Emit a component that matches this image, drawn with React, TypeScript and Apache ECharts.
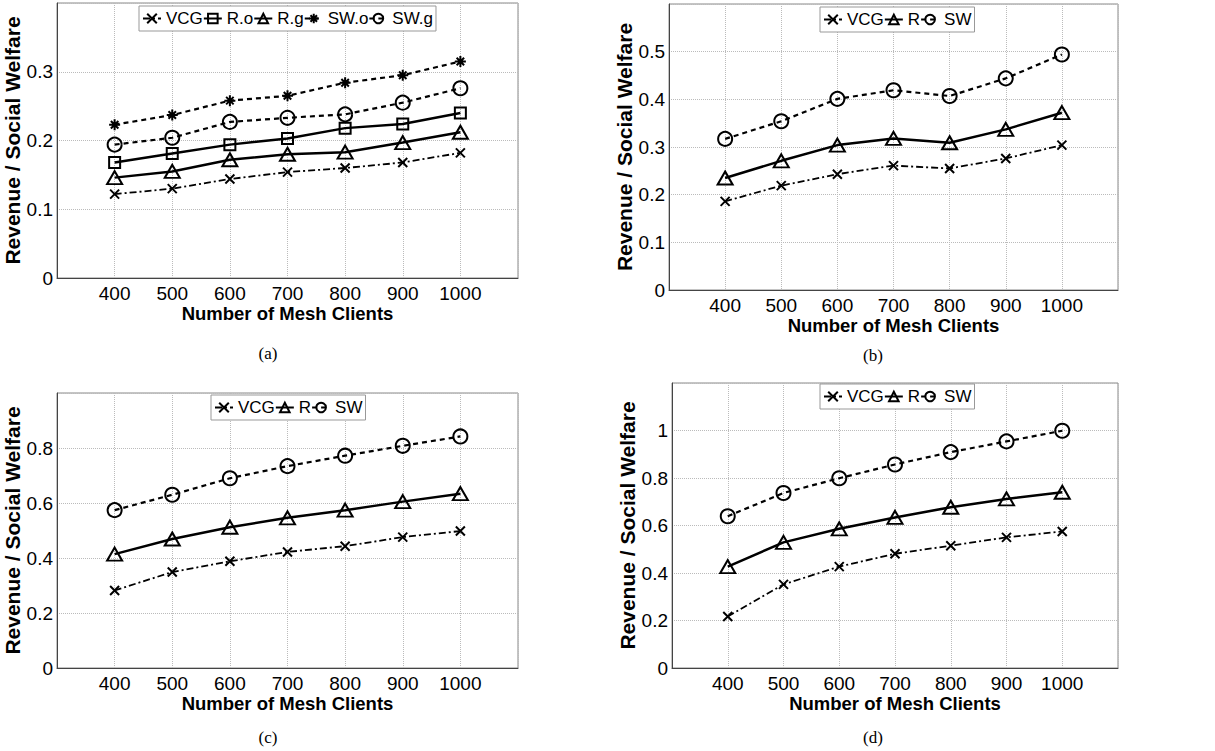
import React, { useEffect, useRef } from "react";
import * as echarts from "echarts";

// ---- data ----
const clients = [400, 500, 600, 700, 800, 900, 1000];

// panel (a)
const aVCG = [0.122, 0.13, 0.144, 0.154, 0.16, 0.168, 0.182];
const aRo = [0.168, 0.181, 0.194, 0.203, 0.218, 0.224, 0.24];
const aRg = [0.146, 0.155, 0.172, 0.18, 0.183, 0.197, 0.212];
const aSWo = [0.223, 0.237, 0.258, 0.265, 0.284, 0.295, 0.315];
const aSWg = [0.194, 0.204, 0.227, 0.233, 0.238, 0.255, 0.276];
// panel (b)
const bVCG = [0.186, 0.219, 0.243, 0.261, 0.255, 0.276, 0.304];
const bR = [0.235, 0.271, 0.304, 0.318, 0.309, 0.337, 0.372];
const bSW = [0.317, 0.354, 0.401, 0.419, 0.407, 0.444, 0.494];
// panel (c)
const cVCG = [0.282, 0.349, 0.388, 0.422, 0.443, 0.476, 0.498];
const cR = [0.414, 0.469, 0.512, 0.546, 0.574, 0.605, 0.634];
const cSW = [0.574, 0.63, 0.69, 0.734, 0.772, 0.808, 0.842];
// panel (d)
const dVCG = [0.217, 0.352, 0.427, 0.481, 0.515, 0.55, 0.575];
const dR = [0.427, 0.529, 0.586, 0.634, 0.677, 0.712, 0.74];
const dSW = [0.639, 0.737, 0.799, 0.857, 0.909, 0.954, 0.999];

const captions = ["(a)", "(b)", "(c)", "(d)"];
const xTitle = "Number of Mesh Clients";
const yTitle = "Revenue / Social Welfare";
const yMaxes = [0.4, 0.6, 1.0, 1.2];
const yIntervals = [0.1, 0.1, 0.2, 0.2];

type Kind = "vcg" | "square" | "triangle" | "star" | "circle";
type S = { label: string; data: number[]; kind: Kind };

const panelSeries: S[][] = [
  [
    { label: "VCG", data: aVCG, kind: "vcg" },
    { label: "R.o", data: aRo, kind: "square" },
    { label: "R.g", data: aRg, kind: "triangle" },
    { label: "SW.o", data: aSWo, kind: "star" },
    { label: "SW.g", data: aSWg, kind: "circle" },
  ],
  [
    { label: "VCG", data: bVCG, kind: "vcg" },
    { label: "R", data: bR, kind: "triangle" },
    { label: "SW", data: bSW, kind: "circle" },
  ],
  [
    { label: "VCG", data: cVCG, kind: "vcg" },
    { label: "R", data: cR, kind: "triangle" },
    { label: "SW", data: cSW, kind: "circle" },
  ],
  [
    { label: "VCG", data: dVCG, kind: "vcg" },
    { label: "R", data: dR, kind: "triangle" },
    { label: "SW", data: dSW, kind: "circle" },
  ],
];

// ---- layout / style ----
const grids = [
  { left: 57, top: 3, width: 461, height: 275 },
  { left: 669, top: 4, width: 449, height: 286 },
  { left: 57, top: 393, width: 461, height: 275 },
  { left: 672, top: 383, width: 446, height: 285 },
];
const legendPos = [
  { left: 139, top: 6 },
  { left: 820, top: 7 },
  { left: 211, top: 395 },
  { left: 820, top: 384 },
];
const captionPos = [
  { x: 268, y: 353 },
  { x: 873, y: 355 },
  { x: 268, y: 737 },
  { x: 873, y: 737 },
];
const yNameGap = [29, 28, 29, 28];

const FONT = "'Liberation Sans', Arial, Helvetica, sans-serif";
const X_SYM = "path://M0,0L10,10M10,0L0,10";
const STAR_SYM = "path://M5,0L5,10M0,5L10,5M1.6,1.6L8.4,8.4M8.4,1.6L1.6,8.4";

function kindStyle(kind: Kind) {
  switch (kind) {
    case "vcg":
      return { symbol: X_SYM, symbolSize: 9, line: { type: [7, 3, 2, 3], width: 1.8 } };
    case "square":
      return { symbol: "rect", symbolSize: 11, line: { type: "solid", width: 2.5 } };
    case "triangle":
      return { symbol: "triangle", symbolSize: [15, 13], line: { type: "solid", width: 2.5 } };
    case "star":
      return { symbol: STAR_SYM, symbolSize: 11, line: { type: [5, 4], width: 2.2 } };
    case "circle":
    default:
      return { symbol: "circle", symbolSize: 14, line: { type: [5, 4], width: 2.2 } };
  }
}

function buildOption() {
  const xAxis: any[] = [];
  const yAxis: any[] = [];
  const series: any[] = [];
  const legend: any[] = [];
  const graphic: any[] = [];

  grids.forEach((g, i) => {
    xAxis.push({
      gridIndex: i,
      type: "value",
      min: 300,
      max: 1100,
      interval: 100,
      name: xTitle,
      nameLocation: "middle",
      nameGap: 25,
      nameTextStyle: { fontFamily: FONT, fontSize: 18.5, fontWeight: "bold", color: "#000" },
      axisLine: { show: true, onZero: false, lineStyle: { color: "#444", width: 1 } },
      axisTick: { show: false },
      axisLabel: {
        showMinLabel: false,
        showMaxLabel: false,
        margin: 6,
        fontFamily: FONT,
        fontSize: 19,
        color: "#000",
        formatter: (v: number) => String(v),
      },
      splitLine: { show: true, lineStyle: { type: "dotted", color: "#bbb", width: 1 } },
    });
    yAxis.push({
      gridIndex: i,
      type: "value",
      min: 0,
      max: yMaxes[i],
      interval: yIntervals[i],
      name: yTitle,
      nameLocation: "middle",
      nameGap: yNameGap[i],
      nameTextStyle: { fontFamily: FONT, fontSize: 21, fontWeight: "bold", color: "#000" },
      axisLine: { show: true, lineStyle: { color: "#444", width: 1 } },
      axisTick: { show: false },
      axisLabel: {
        showMaxLabel: false,
        margin: 4,
        fontFamily: FONT,
        fontSize: 19,
        color: "#000",
        formatter: (v: number) => String(Math.round(v * 100) / 100),
      },
      splitLine: { show: true, lineStyle: { type: "dotted", color: "#bbb", width: 1 } },
    });

    const names: string[] = [];
    panelSeries[i].forEach((s) => {
      const st = kindStyle(s.kind);
      const name = s.label + "#" + i;
      names.push(name);
      series.push({
        type: "line",
        name,
        xAxisIndex: i,
        yAxisIndex: i,
        data: clients.map((c, k) => [c, s.data[k]]),
        symbol: st.symbol,
        symbolSize: st.symbolSize,
        showAllSymbol: true,
        color: "#000",
        lineStyle: { color: "#000", width: st.line.width, type: st.line.type },
        itemStyle: { color: "rgba(0,0,0,0)", borderColor: "#000", borderWidth: 2 },
        emphasis: { disabled: true },
        z: 3,
      });
    });

    legend.push({
      data: names,
      left: legendPos[i].left,
      top: legendPos[i].top,
      orient: "horizontal",
      padding: [4, 3, 4, 3],
      itemGap: 0,
      itemWidth: 18,
      itemHeight: 12,
      borderColor: "#999",
      borderWidth: 1,
      backgroundColor: "#fff",
      selectedMode: false,
      formatter: (n: string) => n.split("#")[0],
      textStyle: { fontFamily: FONT, fontSize: 17, color: "#000" },
    });

    graphic.push({
      type: "text",
      x: captionPos[i].x,
      y: captionPos[i].y,
      style: {
        text: captions[i],
        font: "17px 'Liberation Serif', 'Times New Roman', serif",
        fill: "#000",
        align: "center",
        verticalAlign: "middle",
      },
    });
  });

  return {
    animation: false,
    backgroundColor: "#fff",
    grid: grids.map((g) => ({
      left: g.left,
      top: g.top,
      width: g.width,
      height: g.height,
      show: true,
      borderColor: "#888",
      borderWidth: 1,
      containLabel: false,
    })),
    xAxis,
    yAxis,
    legend,
    series,
    graphic,
  };
}

export default function App() {
  const ref = useRef<HTMLDivElement>(null);
  useEffect(() => {
    if (!ref.current) return;
    const chart = echarts.init(ref.current, null, { renderer: "svg" });
    chart.setOption(buildOption() as any);
    return () => chart.dispose();
  }, []);
  return (
    <div
      ref={ref}
      style={{ position: "absolute", left: 0, top: 0, width: 1215, height: 751, background: "#fff" }}
    />
  );
}
